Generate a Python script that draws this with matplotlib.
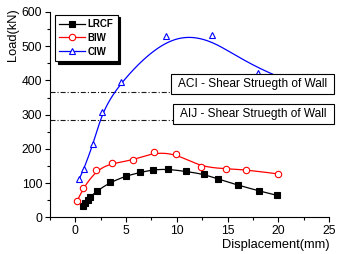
import numpy as np
import matplotlib
matplotlib.use("Agg")
import matplotlib.pyplot as plt
from matplotlib.patches import Rectangle

plt.rcParams['font.family'] = ['Liberation Sans', 'DejaVu Sans']

# data
lrcf_x = [0.72, 0.99, 1.2, 1.4, 2.17, 3.43, 5.0, 6.39, 7.64, 9.1, 10.9, 12.68, 14.1, 16.04, 18.1, 19.9]
lrcf_y = [33, 43, 52, 58, 78, 102, 121, 131, 139, 141, 134, 126, 111, 94, 77, 64]
biw_x = [0.2, 0.79, 2.04, 3.62, 5.73, 7.74, 9.95, 12.35, 14.8, 16.83, 19.93]
biw_y = [49, 87, 139, 158, 167, 190, 186, 147, 142, 139, 127]
ciw_x = [0.40, 0.82, 1.78, 2.64, 4.45, 8.96, 13.5, 18.05, 23.5]
ciw_y = [113, 140, 214, 309, 396, 531, 533, 423, 375]
limit_names = ["ACI - Shear Struegth of Wall", "AIJ - Shear Struegth of Wall"]
limit_vals = [366, 284]


def bspline(x, y, n=300, k=3):
    # clamped cubic B-spline with the data as control points (Origin style)
    P = np.column_stack([x, y]).astype(float)
    m = len(P) - 1
    k = min(k, m)
    inner = np.linspace(0, 1, m - k + 2)[1:-1]
    t = np.concatenate([np.zeros(k + 1), inner, np.ones(k + 1)])
    u = np.linspace(0, 1, n)
    u[-1] = 1 - 1e-10
    N = np.zeros((n, len(t) - 1))
    for i in range(len(t) - 1):
        N[:, i] = (u >= t[i]) & (u < t[i + 1])
    for d in range(1, k + 1):
        Nn = np.zeros((n, len(t) - 1 - d))
        for i in range(len(t) - 1 - d):
            a = (u - t[i]) / (t[i + d] - t[i]) if t[i + d] > t[i] else 0
            b = (t[i + d + 1] - u) / (t[i + d + 1] - t[i + 1]) if t[i + d + 1] > t[i + 1] else 0
            Nn[:, i] = a * N[:, i] + b * N[:, i + 1]
        N = Nn
    c = N @ P
    return c[:, 0], c[:, 1]


fig = plt.figure(figsize=(3.37, 2.54), dpi=100)
ax = fig.add_axes([50 / 337, 1 - 217.3 / 254, 279 / 337, 205.3 / 254])

series = [
    (lrcf_x, lrcf_y, "LRCF", "black", "s", dict(mfc="black", ms=4)),
    (biw_x, biw_y, "BIW", "red", "o", dict(mfc="white", ms=4.6)),
    (ciw_x, ciw_y, "CIW", "blue", "^", dict(mfc="white", ms=4.6)),
]
for xs, ys, name, col, mk, kw in series:
    sx, sy = bspline(xs, ys)
    ax.plot(sx, sy, color=col, lw=0.9, zorder=2)
    ax.plot(xs, ys, ls="none", marker=mk, color=col, mec=col, mew=0.8, zorder=3, **kw)
    ax.plot([], [], color=col, lw=0.9, marker=mk, mec=col, mew=0.8, label=name, **kw)

for v in limit_vals:
    ax.axhline(v, color="0.1", lw=0.8, ls=(0, (4.5, 1.8, 1, 1.8)), zorder=1)

# labelled boxes sitting on the limit lines, running past the right end of the axis
for name, v, x0 in zip(limit_names, limit_vals, [170.7, 172.7]):
    ypix = ax.transData.transform((0, v))[1]
    h = 20
    r = Rectangle((x0 / 337, (ypix - h / 2) / 254), (334 - x0) / 337, h / 254,
                  transform=fig.transFigure, fc="white", ec="black", lw=0.8, zorder=5)
    fig.add_artist(r)
    fig.text((x0 + 334) / 2 / 337, ypix / 254, name, ha="center", va="center",
             fontsize=8.6, zorder=6)

ax.set_xlim(-2.5, 25)
ax.set_ylim(0, 600)
ax.set_xticks(np.arange(0, 26, 5))
ax.set_xticks(np.arange(-2.5, 25.1, 2.5), minor=True)
ax.set_yticks(np.arange(0, 601, 100))
ax.set_yticks(np.arange(0, 601, 50), minor=True)
ax.tick_params(which="major", direction="out", length=3.5, width=0.8, labelsize=8.7, pad=2)
ax.tick_params(which="minor", direction="out", length=2, width=0.8)
for s in ("top", "right"):
    ax.spines[s].set_visible(False)
for s in ("left", "bottom"):
    ax.spines[s].set_linewidth(0.8)

fig.text(330 / 337, 1 - 245 / 254, "Displacement(mm)", ha="right", va="center", fontsize=9.3)
fig.text(13 / 337, 1 - 35 / 254, "Load(kN)", ha="center", va="center", rotation=90, fontsize=9.3)

leg = ax.legend(loc="upper left", bbox_to_anchor=(5 / 279, 1 - 2.6 / 205.3), borderaxespad=0,
                prop=dict(weight="bold", size=7), handlelength=2.6, handletextpad=0.3,
                labelspacing=0.4, borderpad=0.45, fancybox=False, framealpha=1,
                edgecolor="black", shadow=dict(color="black", alpha=1))
leg.get_frame().set_linewidth(0.8)

fig.savefig("out.png", dpi=100)
